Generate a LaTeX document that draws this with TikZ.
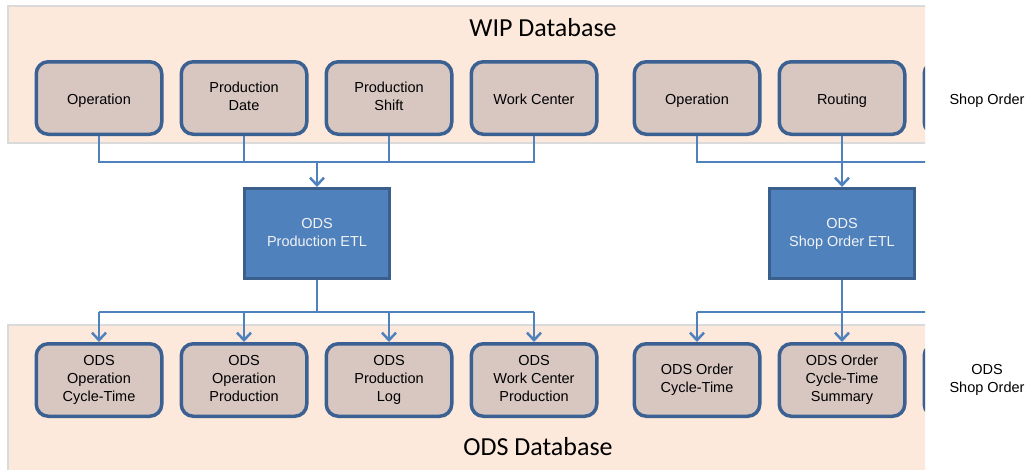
\documentclass[tikz,border=0pt]{standalone}
\usepackage{fontspec}
\setmainfont{Liberation Sans}
\newfontfamily\titlefont{Carlito}
\usetikzlibrary{arrows.meta}

\definecolor{bandfill}{HTML}{FDE9DB}
\definecolor{bandedge}{HTML}{DADADA}
\definecolor{boxfill}{HTML}{D8C7C1}
\definecolor{boxedge}{HTML}{3B6092}
\definecolor{etlfill}{HTML}{4F81BD}
\definecolor{etledge}{HTML}{3A5F8C}
\definecolor{wire}{HTML}{4F81BD}

% even strut so every label sits at the same height in its box
\newcommand\boxstrut{\rule[-2.9pt]{0pt}{18pt}}

\tikzset{
  struts/.style={execute at begin node=\boxstrut, execute at end node=\boxstrut},
  band/.style={fill=bandfill, draw=bandedge, line width=2pt},
  tablebox/.style={draw=boxedge, fill=boxfill, line width=3.5pt, rounded corners=12pt,
    minimum width=125.5pt, minimum height=72.5pt, align=center, struts,
    font=\fontsize{14.5}{18}\selectfont, inner sep=0pt},
  etlbox/.style={draw=etledge, fill=etlfill, line width=3pt,
    minimum width=145pt, minimum height=90pt, align=center, text=white!95!black, struts,
    font=\fontsize{14.5}{18}\selectfont, inner sep=0pt},
  sidelabel/.style={align=center, struts, font=\fontsize{14.5}{18}\selectfont, inner sep=0pt},
  title/.style={font=\titlefont\fontsize{26}{30}\selectfont, inner sep=0pt},
  wire/.style={draw=wire, line width=2.5pt},
  feed/.style={wire, -{Straight Barb[length=7.5pt,width=14pt,line width=2.5pt]}},
}

\begin{document}
\begin{tikzpicture}[x=1pt, y=-1pt]
\useasboundingbox (0,0) rectangle (1036,469);

\begin{scope}
  \clip (0,0) rectangle (925,469);

  % database bands
  \path[band] (8,6) rectangle (940,143);
  \path[band] (8,325) rectangle (940,480);
  \node[title] (wipdb) at (543,28) {WIP Database};
  \node[title] (odsdb) at (538,447) {ODS Database};

  % WIP tables
  \node[tablebox] (w1) at (99,98)  {Operation};
  \node[tablebox] (w2) at (244,98) {Production\\Date};
  \node[tablebox] (w3) at (389,98) {Production\\Shift};
  \node[tablebox] (w4) at (534,98) {Work Center};
  \node[tablebox] (w5) at (697,98) {Operation};
  \node[tablebox] (w6) at (842,98) {Routing};
  \node[tablebox] (w7) at (987,98) {};

  % ETL jobs
  \node[etlbox] (e1) at (317,233.5) {ODS\\Production ETL};
  \node[etlbox] (e2) at (842,233.5) {ODS\\Shop Order ETL};

  % ODS tables
  \node[tablebox] (o1) at (99,380)  {ODS\\Operation\\Cycle-Time};
  \node[tablebox] (o2) at (244,380) {ODS\\Operation\\Production};
  \node[tablebox] (o3) at (389,380) {ODS\\Production\\Log};
  \node[tablebox] (o4) at (534,380) {ODS\\Work Center\\Production};
  \node[tablebox] (o5) at (697,380) {ODS Order\\Cycle-Time};
  \node[tablebox] (o6) at (842,380) {ODS Order\\Cycle-Time\\Summary};
  \node[tablebox] (o7) at (987,380) {};

  % collector buses
  \coordinate (in1) at (317,162);
  \coordinate (in2) at (842,162);
  \coordinate (out1) at (317,312);
  \coordinate (out2) at (842,312);

  % WIP tables into the production ETL
  \draw[wire] (w1.south) -- (w1.south |- in1) -- (w4.south |- in1) -- (w4.south);
  \draw[wire] (w2.south) -- (w2.south |- in1);
  \draw[wire] (w3.south) -- (w3.south |- in1);
  \draw[feed] (in1) -- (e1.north);

  % WIP tables into the shop order ETL
  \draw[wire] (w5.south) -- (w5.south |- in2) -- (w7.south |- in2) -- (w7.south);
  \draw[wire] (w6.south) -- (in2);
  \draw[feed] (in2) -- (e2.north);

  % production ETL out to ODS tables
  \draw[wire] (e1.south) -- (out1);
  \draw[wire] (o1.north |- out1) -- (o4.north |- out1);
  \draw[feed] (o1.north |- out1) -- (o1.north);
  \draw[feed] (o2.north |- out1) -- (o2.north);
  \draw[feed] (o3.north |- out1) -- (o3.north);
  \draw[feed] (o4.north |- out1) -- (o4.north);

  % shop order ETL out to ODS tables
  \draw[wire] (e2.south) -- (out2);
  \draw[wire] (o5.north |- out2) -- (o7.north |- out2);
  \draw[feed] (o5.north |- out2) -- (o5.north);
  \draw[feed] (o6.north |- out2) -- (o6.north);
  \draw[feed] (o7.north |- out2) -- (o7.north);
\end{scope}

% labels of the tables beyond the edge
\node[sidelabel] (w7label) at (w7.center) {Shop Order};
\node[sidelabel] (o7label) at (o7.center) {ODS\\Shop Order};
\end{tikzpicture}
\end{document}
